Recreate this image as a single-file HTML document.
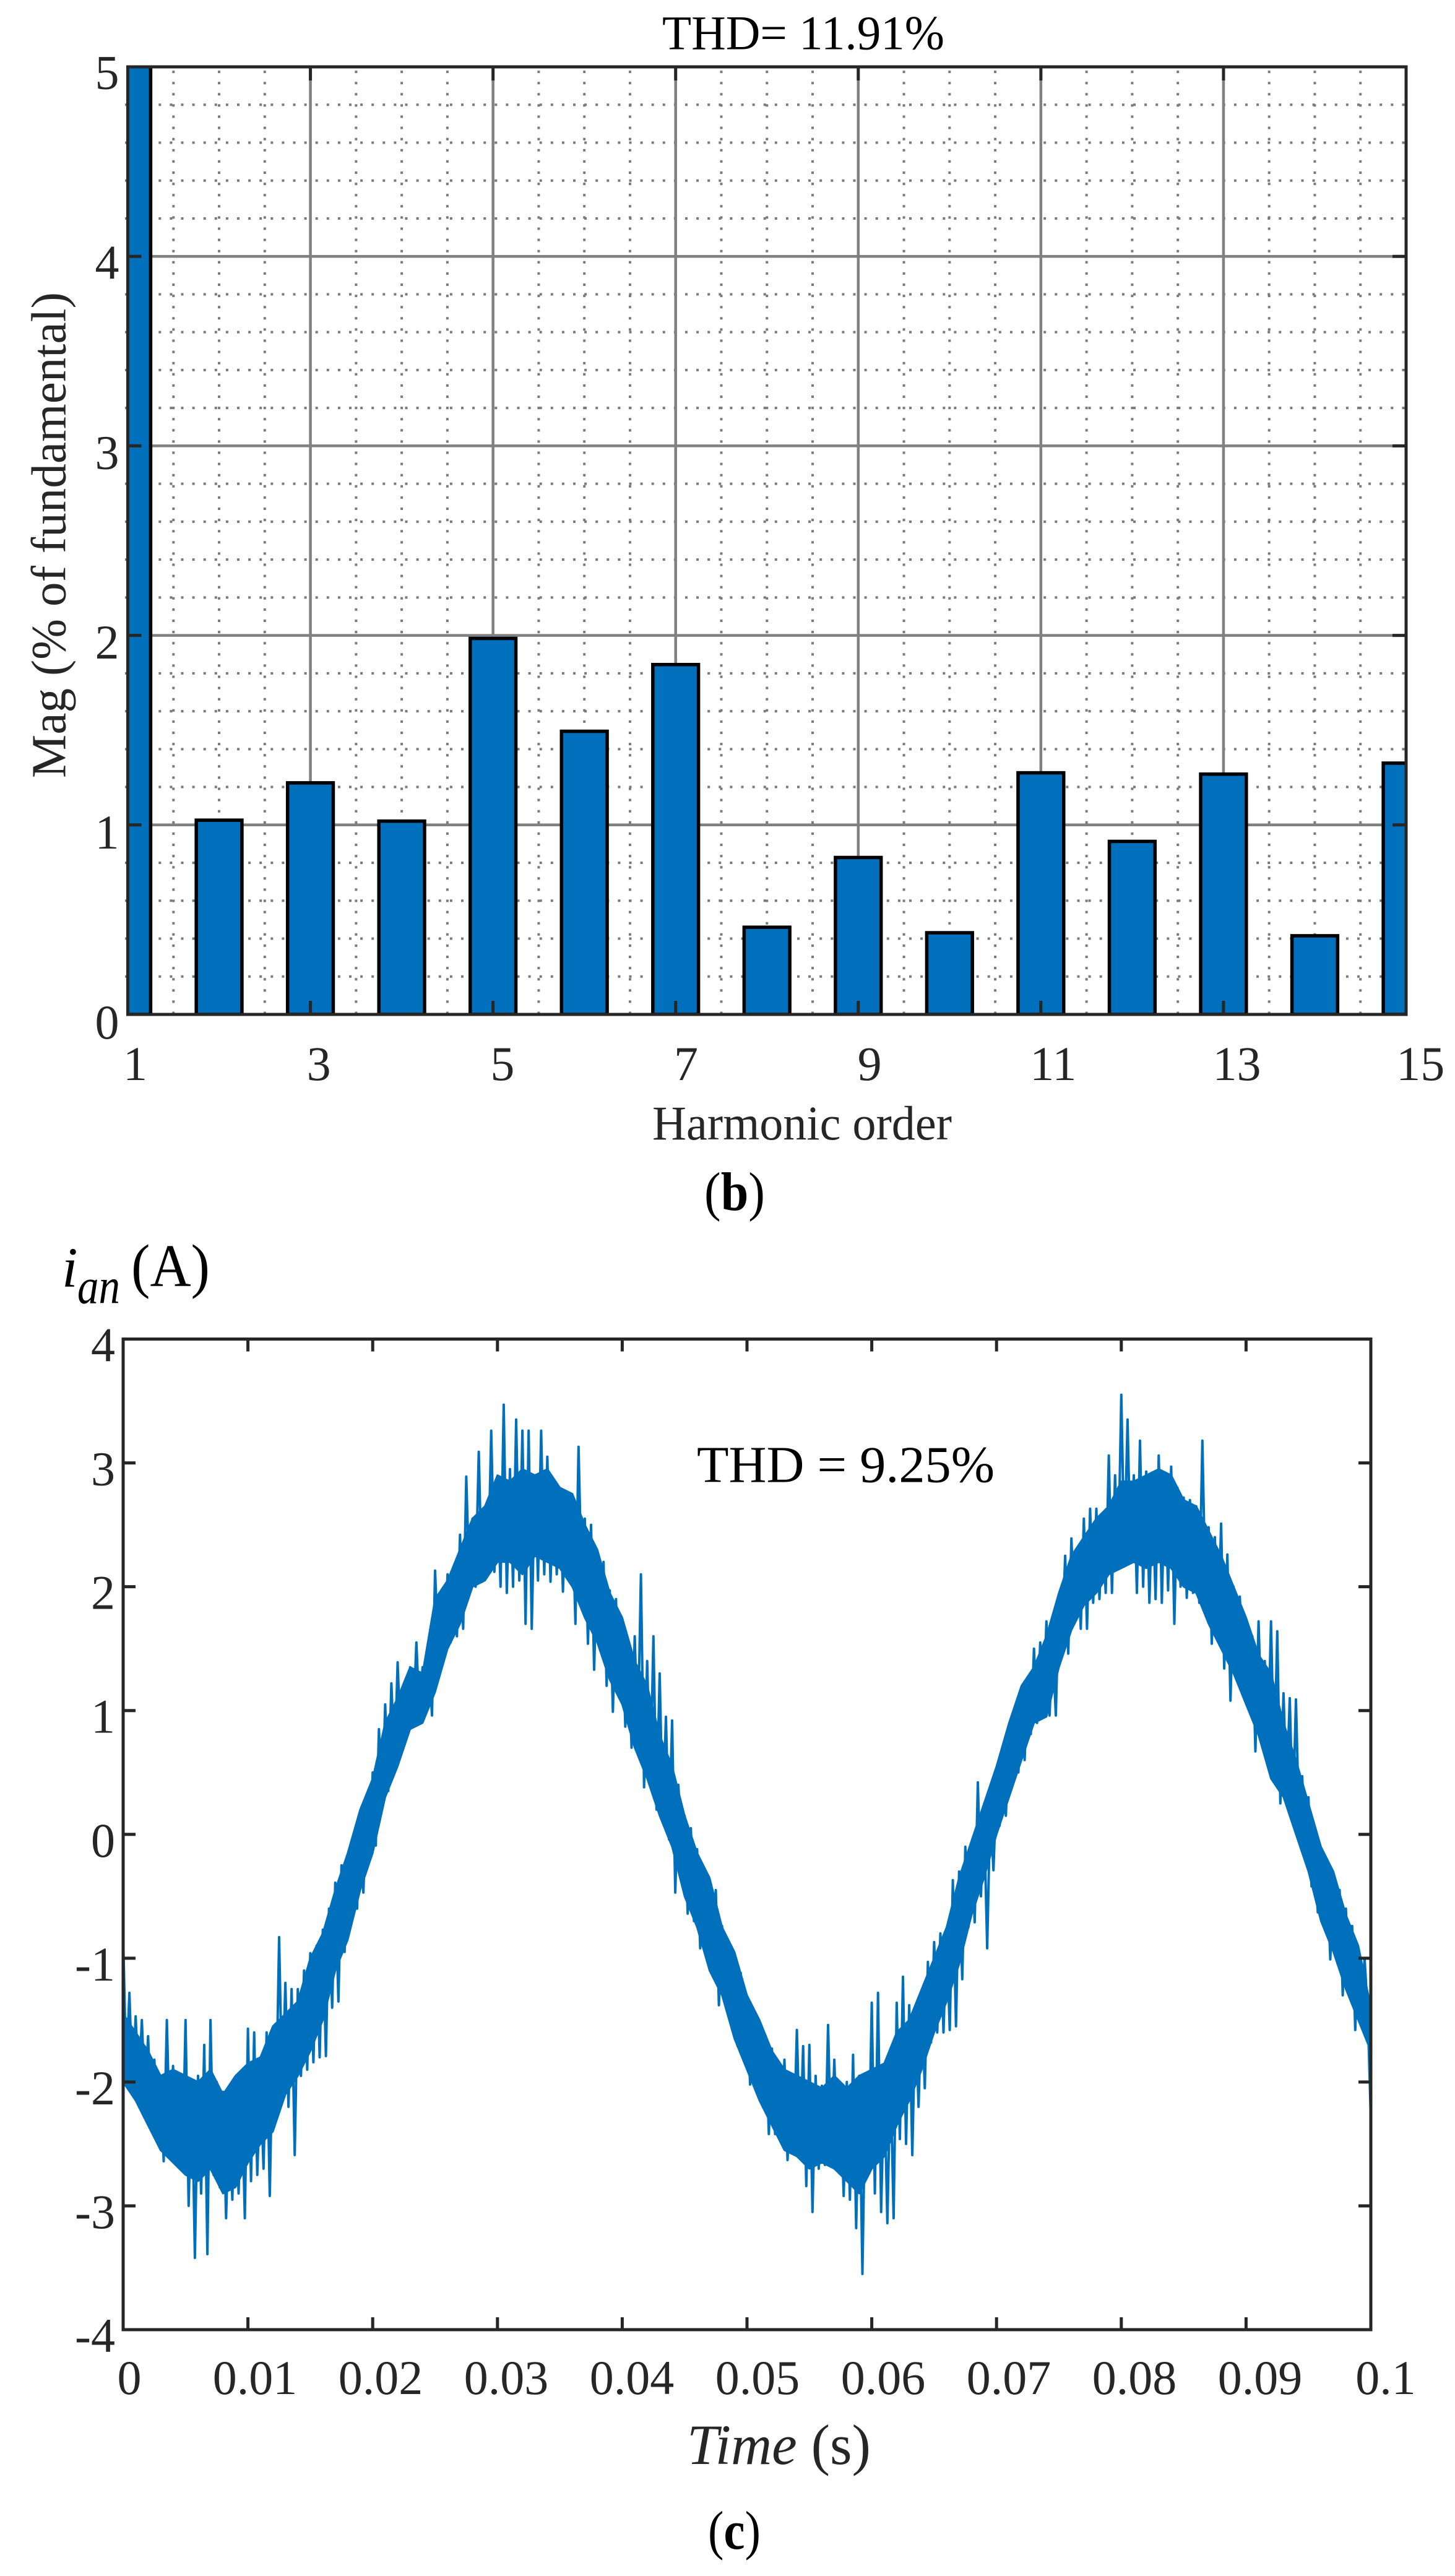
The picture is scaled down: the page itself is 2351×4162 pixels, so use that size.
<!DOCTYPE html>
<html lang="en">
<head>
<meta charset="utf-8">
<title>Harmonic spectrum and phase current waveform</title>
<style>
html,body{margin:0;padding:0;background:#fff;}
svg{display:block;}
text{font-family:"Liberation Serif",serif;fill:#262626;}
</style>
</head>
<body>
<svg id="figure" xmlns="http://www.w3.org/2000/svg" width="2351" height="4162" viewBox="0 0 2351 4162">
  <defs>
    <clipPath id="clip-b"><rect x="206.5" y="108" width="2065.5" height="1531"/></clipPath>
    <clipPath id="clip-c"><rect x="196" y="2163" width="2022" height="1601"/></clipPath>
  </defs>
  <rect x="0" y="0" width="2351" height="4162" fill="#fff"/>

  <g id="chart-b">
    <text x="1070" y="79.5" font-size="78" textLength="456" lengthAdjust="spacingAndGlyphs" style="fill:#000">THD= 11.91%</text>
    <g id="b-grid-minor"></g>
    <g id="b-grid-major"></g>
    <g id="b-bars" clip-path="url(#clip-b)"></g>
    <rect x="206.5" y="108" width="2065.5" height="1531" fill="none" stroke="#262626" stroke-width="5"/>
    <g id="b-ticks"></g>
    <g id="b-labels"></g>
    <text transform="translate(105.5 1257) rotate(-90)" font-size="79" textLength="785">Mag (% of fundamental)</text>
    <text x="1054" y="1841" font-size="78" textLength="484" lengthAdjust="spacingAndGlyphs">Harmonic order</text>
    <text x="1138" y="1955" font-size="88" textLength="98" lengthAdjust="spacingAndGlyphs" style="fill:#000">(<tspan font-weight="bold">b</tspan>)</text>
  </g>

  <g id="chart-c">
    <g style="font-style:normal">
      <text x="100" y="2079" font-size="92" font-style="italic" style="fill:#000">i</text>
      <text x="125" y="2105.5" font-size="82" font-style="italic" textLength="69" lengthAdjust="spacingAndGlyphs" style="fill:#000">an</text>
      <text x="212" y="2078" font-size="98" textLength="127" lengthAdjust="spacingAndGlyphs" style="fill:#000">(A)</text>
    </g>
    <g id="c-line" clip-path="url(#clip-c)"></g>
    <rect x="199" y="2163.5" width="2016" height="1600.5" fill="none" stroke="#262626" stroke-width="5"/>
    <g id="c-ticks"></g>
    <g id="c-labels"></g>
    <text x="1126" y="2394.5" font-size="84" textLength="481" lengthAdjust="spacingAndGlyphs" style="fill:#000">THD = 9.25%</text>
    <text x="1110" y="3981" font-size="92" textLength="297" lengthAdjust="spacingAndGlyphs"><tspan font-style="italic">Time</tspan> (s)</text>
    <text x="1144" y="4118" font-size="88" textLength="85" lengthAdjust="spacingAndGlyphs" style="fill:#000">(<tspan font-weight="bold">c</tspan>)</text>
  </g>
</svg>

<script>
// Panel (b) data
const harmonicOrders = [1,2,3,4,5,6,7,8,9,10,11,12,13,14,15];
const harmonicMagnitudes = [100,1.025,1.222,1.02,1.984,1.494,1.846,0.46,0.828,0.431,1.275,0.913,1.268,0.415,1.326];
const spectrumXTicks = [1,3,5,7,9,11,13,15];
const spectrumYTicks = [0,1,2,3,4,5];
const spectrumXLimits = [1,15];
const spectrumYLimits = [0,5];

// Panel (c) data
const currentTimeStep = 0.00025;
const coreTimeStep = 0.001;
const currentXLimits = [0,0.1];
const currentYLimits = [-4,4];
const currentXTicks = [0,0.01,0.02,0.03,0.04,0.05,0.06,0.07,0.08,0.09,0.1];
const currentYTicks = [-4,-3,-2,-1,0,1,2,3,4];
// Extremes of the noisy trace, read every 0.25 ms
const currentValues = [
-0.83,-1.92,-1.28,-2.05,
-1.47,-2.05,-1.5,-2.15,
-1.63,-2.3,-1.82,-2.35,
-2.0,-2.64,-1.5,-2.5,
-1.87,-2.55,-2.0,-2.7,
-1.5,-3.0,-1.98,-3.42,
-1.95,-2.9,-1.7,-3.39,
-1.5,-2.75,-2.0,-2.85,
-2.08,-3.1,-2.2,-2.95,
-2.05,-2.9,-2.03,-3.1,
-1.57,-2.8,-1.6,-2.75,
-1.95,-2.7,-1.6,-2.92,
-1.57,-2.24,-0.83,-2.1,
-1.2,-2.2,-1.25,-2.59,
-1.25,-1.95,-1.1,-1.9,
-0.96,-1.84,-0.9,-1.8,
-0.77,-1.79,-0.6,-1.4,
-0.39,-1.35,-0.25,-0.95,
-0.17,-0.68,-0.1,-0.6,
0.15,-0.47,0.2,-0.2,
0.5,-0.09,0.85,0.2,
1.05,0.35,1.22,0.55,
1.39,0.7,1.2,0.83,
1.35,0.9,1.55,0.96,
1.35,1.0,1.43,0.96,
2.13,1.5,1.95,1.5,
2.1,1.55,2.1,1.6,
2.42,1.66,2.89,2.02,
2.55,2.0,3.09,2.04,
2.6,2.1,3.26,2.12,
2.8,2.0,3.47,1.95,
2.95,2.0,3.35,2.05,
3.26,1.7,3.26,1.66,
2.9,2.05,3.26,2.1,
3.05,2.04,2.8,2.1,
2.75,1.96,2.75,2.1,
2.6,1.7,3.13,2.0,
2.55,1.54,2.5,1.33,
2.26,1.5,2.2,1.2,
1.97,0.99,1.9,1.15,
1.68,0.87,1.5,0.7,
1.6,0.75,2.1,0.38,
1.4,0.4,1.6,0.2,
1.3,0.12,0.95,-0.04,
0.92,-0.47,0.4,-0.1,
0.15,-0.64,0.05,-0.7,
-0.12,-0.92,-0.37,-0.95,
-0.53,-1.03,-0.45,-1.38,
-0.74,-1.2,-0.9,-1.35,
-1.0,-1.71,-1.12,-1.75,
-1.33,-2.02,-1.44,-2.0,
-1.57,-2.08,-1.63,-2.42,
-1.73,-2.42,-1.87,-2.45,
-1.82,-2.63,-2.08,-2.5,
-1.58,-2.54,-1.71,-2.84,
-1.7,-3.05,-1.95,-2.7,
-2.03,-2.67,-1.54,-2.6,
-1.82,-2.64,-2.08,-2.92,
-2.0,-2.95,-1.78,-3.18,
-1.95,-3.55,-2.0,-2.7,
-1.36,-2.9,-1.28,-3.05,
-1.95,-3.14,-1.9,-3.1,
-1.36,-2.46,-1.15,-2.5,
-1.38,-2.59,-1.41,-2.2,
-1.33,-2.05,-1.03,-1.68,
-0.87,-1.6,-0.8,-1.6,
-0.79,-1.58,-0.37,-1.55,
-0.3,-1.17,-0.1,-0.75,
-0.09,-0.71,0.42,-0.5,
0.17,-0.92,0.25,-0.29,
0.38,0.07,0.68,0.15,
0.8,0.42,0.97,0.5,
1.05,0.6,1.26,0.81,
1.5,0.9,1.55,0.96,
1.72,0.96,1.55,0.96,
1.93,1.55,2.25,1.46,
2.39,1.75,2.3,1.66,
2.55,1.66,2.63,1.87,
2.63,1.9,2.5,1.95,
3.06,1.95,2.9,2.2,
3.55,2.25,3.35,2.2,
2.9,1.95,3.18,2.0,
2.93,1.87,2.75,1.9,
3.06,1.87,2.9,1.97,
2.97,1.7,2.8,2.0,
2.72,1.91,2.7,1.95,
2.65,1.87,3.18,1.9,
2.48,1.54,2.4,1.6,
2.51,1.34,2.26,1.08,
2.0,1.37,1.92,1.3,
1.72,1.11,1.6,0.67,
1.72,0.85,1.4,0.66,
1.72,0.55,1.64,0.25,
1.14,0.35,1.1,0.12,
1.09,0.05,0.47,-0.13,
0.3,-0.42,-0.12,-0.63,
-0.2,-0.71,-0.3,-1.01,
-0.37,-1.0,-0.45,-1.3,
-0.6,-1.2,-0.74,-1.58,
-0.95,-1.5,-1.0,-1.44,
-2.3
];
// Solid core of the noise band, read every 1 ms
const currentCoreUpper = [-1.45,-1.6,-1.75,-1.95,-1.9,-1.95,-2.0,-1.9,-2.1,-1.95,
-1.85,-1.8,-1.55,-1.45,-1.35,-1.0,-0.8,-0.45,-0.15,0.2,
0.45,0.9,1.1,1.35,1.3,1.9,2.05,2.3,2.55,2.65,
2.9,2.85,2.95,2.9,2.95,2.8,2.75,2.5,2.3,1.95,
1.75,1.4,1.2,0.8,0.55,0.15,-0.15,-0.35,-0.75,-0.95,
-1.3,-1.5,-1.75,-1.9,-1.95,-2.0,-2.05,-1.95,-2.05,-1.95,
-1.9,-1.85,-1.6,-1.5,-1.25,-1.0,-0.75,-0.35,-0.05,0.25,
0.55,0.9,1.2,1.35,1.6,1.95,2.25,2.4,2.55,2.65,
2.85,2.85,2.9,2.95,2.9,2.7,2.65,2.45,2.25,2.0,
1.75,1.45,1.3,0.9,0.6,0.25,-0.1,-0.3,-0.65,-0.9,-1.4];
const currentCoreLower = [-2.0,-2.15,-2.35,-2.55,-2.65,-2.75,-2.8,-2.7,-2.9,-2.85,
-2.65,-2.5,-2.4,-2.1,-1.95,-1.75,-1.5,-1.1,-0.85,-0.45,
-0.15,0.3,0.55,0.85,0.9,1.15,1.5,1.7,2.0,2.05,
2.2,2.2,2.1,2.25,2.2,2.15,2.0,1.75,1.55,1.25,
1.05,0.7,0.45,0.15,-0.1,-0.5,-0.75,-1.1,-1.3,-1.65,
-1.9,-2.15,-2.35,-2.55,-2.6,-2.7,-2.65,-2.7,-2.8,-2.9,
-2.7,-2.6,-2.35,-2.15,-1.9,-1.6,-1.35,-1.05,-0.65,-0.35,
0.0,0.3,0.6,0.9,0.95,1.35,1.65,1.85,1.95,2.1,
2.15,2.2,2.15,2.2,2.15,2.0,1.95,1.7,1.5,1.3,
1.05,0.8,0.45,0.3,0.0,-0.3,-0.7,-0.95,-1.25,-1.5,-1.75];

const NS = 'http://www.w3.org/2000/svg';
function make(tag, parent, attrs, text) {
  const el = document.createElementNS(NS, tag);
  for (const k in attrs) el.setAttribute(k, attrs[k]);
  if (text !== undefined) el.textContent = text;
  parent.appendChild(el);
  return el;
}

// Axis functions, panel (b)
const bLeft = 206.5, bRight = 2272, bTop = 108, bBottom = 1639;
function xB(o) { return bLeft + (o - spectrumXLimits[0]) / (spectrumXLimits[1] - spectrumXLimits[0]) * (bRight - bLeft); }
function yB(v) { return bBottom - (v - spectrumYLimits[0]) / (spectrumYLimits[1] - spectrumYLimits[0]) * (bBottom - bTop); }

// Axis functions, panel (c)
const cLeft = 199, cRight = 2215, cTop = 2163.5, cBottom = 3764;
function xC(t) { return cLeft + (t - currentXLimits[0]) / (currentXLimits[1] - currentXLimits[0]) * (cRight - cLeft); }
function yC(v) { return cBottom - (v - currentYLimits[0]) / (currentYLimits[1] - currentYLimits[0]) * (cBottom - cTop); }

const DOT = '4 14.1';
const gMinor = document.getElementById('b-grid-minor');
for (let o = spectrumXLimits[0] + 0.5; o < spectrumXLimits[1]; o += 0.5) {
  if (Number.isInteger((o - 1) / 2)) continue;
  const el = make('line', gMinor, {x1: xB(o), x2: xB(o), y1: bBottom - 0.5, y2: bTop, stroke: '#7a7a7a', 'stroke-width': 4, 'stroke-dasharray': DOT});
  
  
}
for (let n = 1; n < 25; n++) {
  if (n % 5 === 0) continue;
  const v = n * 0.2;
  const el = make('line', gMinor, {x1: 202, x2: bRight, y1: yB(v), y2: yB(v), stroke: '#7a7a7a', 'stroke-width': 4, 'stroke-dasharray': DOT});
  
  
}

const gMajor = document.getElementById('b-grid-major');
spectrumXTicks.slice(1, -1).forEach(function (o) {
  const el = make('line', gMajor, {x1: xB(o), x2: xB(o), y1: bTop, y2: bBottom, stroke: '#808080', 'stroke-width': 4.5});
  
  
});
spectrumYTicks.slice(1, -1).forEach(function (v) {
  const el = make('line', gMajor, {x1: bLeft, x2: bRight, y1: yB(v), y2: yB(v), stroke: '#808080', 'stroke-width': 4.5});
  
  
});

const gBars = document.getElementById('b-bars');
const barHalfWidth = 0.25;
harmonicOrders.forEach(function (o, i) {
  const v = harmonicMagnitudes[i];
  const x0 = xB(o - barHalfWidth), x1 = xB(o + barHalfWidth);
  const el = make('rect', gBars, {x: x0, y: yB(v), width: x1 - x0, height: yB(0) - yB(v), fill: '#0070BD', stroke: '#000', 'stroke-width': 5.5});
  
  
});

const bTicks = document.getElementById('b-ticks');
const tickB = 22;
spectrumXTicks.slice(1, -1).forEach(function (o) {
  const top = make('line', bTicks, {x1: xB(o), x2: xB(o), y1: bTop, y2: bTop + tickB, stroke: '#262626', 'stroke-width': 5});
  
  
  const bot = make('line', bTicks, {x1: xB(o), x2: xB(o), y1: bBottom, y2: bBottom - tickB, stroke: '#262626', 'stroke-width': 5});
  
  
});
spectrumYTicks.slice(1, -1).forEach(function (v) {
  const left = make('line', bTicks, {x1: bLeft, x2: bLeft + tickB, y1: yB(v), y2: yB(v), stroke: '#262626', 'stroke-width': 5});
  
  
  const right = make('line', bTicks, {x1: bRight, x2: bRight - tickB, y1: yB(v), y2: yB(v), stroke: '#262626', 'stroke-width': 5});
  
  
});

const bLabels = document.getElementById('b-labels');
spectrumXTicks.forEach(function (o) {
  const el = make('text', bLabels, {x: xB(o) + 12 + 0.8 * (o - 1), y: 1745, 'font-size': 78, 'text-anchor': 'middle'}, String(o));
  
  
});
spectrumYTicks.forEach(function (v) {
  const el = make('text', bLabels, {x: 173, y: yB(v) + 35.5 + (5 - v) * 0.7, 'font-size': 78, 'text-anchor': 'middle'}, String(v));
  
  
});

// Panel (c) trace: solid core band plus spiky extremes
const gLine = document.getElementById('c-line');
const coreTop = currentCoreUpper.map(function (v, i) {
  return xC(i * coreTimeStep).toFixed(1) + ',' + yC(v).toFixed(1);
});
const coreBottom = currentCoreLower.map(function (v, i) {
  return xC(i * coreTimeStep).toFixed(1) + ',' + yC(v).toFixed(1);
}).reverse();
const core = make('polygon', gLine, {points: coreTop.concat(coreBottom).join(' '), fill: '#0070BD', stroke: '#0070BD', 'stroke-width': 3, 'stroke-linejoin': 'round'});



const tracePoints = currentValues.map(function (v, i) {
  return xC(i * currentTimeStep).toFixed(1) + ',' + yC(v).toFixed(1);
}).join(' ');
const trace = make('polyline', gLine, {points: tracePoints, fill: 'none', stroke: '#0070BD', 'stroke-width': 4, 'stroke-linejoin': 'round'});



const cTicks = document.getElementById('c-ticks');
const tickC = 20;
currentXTicks.slice(1, -1).forEach(function (t) {
  const top = make('line', cTicks, {x1: xC(t), x2: xC(t), y1: cTop, y2: cTop + tickC, stroke: '#262626', 'stroke-width': 5});
  
  
  const bot = make('line', cTicks, {x1: xC(t), x2: xC(t), y1: cBottom, y2: cBottom - tickC, stroke: '#262626', 'stroke-width': 5});
  
  
});
currentYTicks.slice(1, -1).forEach(function (v) {
  const left = make('line', cTicks, {x1: cLeft, x2: cLeft + tickC, y1: yC(v), y2: yC(v), stroke: '#262626', 'stroke-width': 5});
  
  
  const right = make('line', cTicks, {x1: cRight, x2: cRight - tickC, y1: yC(v), y2: yC(v), stroke: '#262626', 'stroke-width': 5});
  
  
});

const cLabels = document.getElementById('c-labels');
currentXTicks.forEach(function (t) {
  const el = make('text', cLabels, {x: xC(t) + 10 + t * 140, y: 3868, 'font-size': 78, 'text-anchor': 'middle'}, String(t));
  
  
});
currentYTicks.forEach(function (v) {
  const el = make('text', cLabels, {x: 186, y: yC(v) + 36, 'font-size': 78, 'text-anchor': 'end'}, String(v));
  
  
});
</script>
</body>
</html>
